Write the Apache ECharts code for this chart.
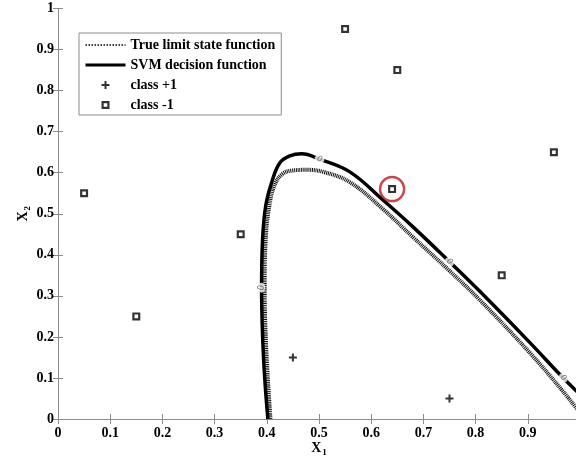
<!DOCTYPE html>
<html>
<head>
<meta charset="utf-8">
<script src="https://cdn.jsdelivr.net/npm/echarts@6/dist/echarts.min.js"></script>
<style>
  html, body { margin: 0; padding: 0; background: #fff; }
  #chart { width: 576px; height: 461px; }
</style>
</head>
<body>
<div id="chart"></div>
<script>
// points, [x1, x2]
const svmCurve = [
  [0.402, 0], [0.396, 0.10], [0.392, 0.20], [0.390, 0.32], [0.392, 0.44],
  [0.398, 0.52], [0.409, 0.575], [0.425, 0.624], [0.444, 0.641], [0.467, 0.646],
  [0.501, 0.633], [0.559, 0.602], [0.622, 0.534], [0.680, 0.468], [0.750, 0.383],
  [0.808, 0.311], [0.904, 0.186], [0.967, 0.101], [1.0, 0.060]
];
const trueCurve = [
  [0.407, 0], [0.402, 0.10], [0.398, 0.20], [0.396, 0.32], [0.398, 0.44],
  [0.405, 0.52], [0.415, 0.570], [0.430, 0.597], [0.447, 0.605], [0.477, 0.607],
  [0.511, 0.601], [0.559, 0.577], [0.622, 0.512], [0.680, 0.443], [0.750, 0.361],
  [0.808, 0.290], [0.904, 0.161], [0.967, 0.068], [1.0, 0.015]
];
const classPlus = [[0.45, 0.15], [0.75, 0.05]];
const classMinus = [
  [0.05, 0.55], [0.15, 0.25], [0.35, 0.45], [0.55, 0.95],
  [0.65, 0.85], [0.64, 0.56], [0.85, 0.35], [0.95, 0.65]
];
const circledPoint = [[0.64, 0.56]];
const contourLabelPts = [[0.390, 0.32], [0.501, 0.633], [0.750, 0.383], [0.968, 0.100]];
const contourLabelAngles = [90, -21, -43, -46];

const FONT = "'Liberation Serif', 'Times New Roman', serif";
const axisGray = '#8c8c8c';
const plusPath = 'path://M3,0h2v3h3v2h-3v3h-2v-3h-3v-2h3z';
const squarePath = 'path://M0,0h8v8h-8z M2.2,2.2v3.6h3.6v-3.6z';

const chart = echarts.init(document.getElementById('chart'));

const baseAxis = {
  type: 'value', min: 0, max: 1, interval: 0.1,
  splitLine: { show: false },
  axisLine: { show: true, lineStyle: { color: axisGray, width: 1 } },
  axisTick: { show: true, inside: true, length: 5, lineStyle: { color: axisGray } }
};
const tickFont = { fontFamily: FONT, fontWeight: 'bold', fontSize: 14, color: '#000' };
const nameRich = {
  m: { fontFamily: FONT, fontWeight: 'bold', fontSize: 14, color: '#000' },
  s: { fontFamily: FONT, fontWeight: 'bold', fontSize: 9, color: '#000', padding: [9, 0, 0, 1] }
};

const option = {
  animation: false,
  backgroundColor: '#fff',
  grid: { left: 58, top: 8.5, width: 522, height: 410.5, outerBoundsMode: 'none', containLabel: false },
  xAxis: [
    Object.assign({}, baseAxis, {
      position: 'bottom',
      axisLabel: Object.assign({ margin: 7 }, tickFont),
      name: '{m|X}{s|1}', nameLocation: 'middle', nameGap: 20, nameMoveOverlap: false,
      nameTextStyle: { rich: nameRich }
    }),
    Object.assign({}, baseAxis, { position: 'top', axisLabel: { show: false } })
  ],
  yAxis: [
    Object.assign({}, baseAxis, {
      position: 'left',
      axisLabel: Object.assign({ margin: 4 }, tickFont),
      name: '{m|X}{s|2}', nameLocation: 'middle', nameGap: 26, nameRotate: 90, nameMoveOverlap: false,
      nameTextStyle: { rich: nameRich }
    }),
    Object.assign({}, baseAxis, { position: 'right', axisLabel: { show: false } })
  ],
  legend: {
    orient: 'vertical', left: 79, top: 33,
    padding: [5, 6, 3, 5], itemGap: 6, itemWidth: 40, itemHeight: 8,
    borderColor: '#8c8c8c', borderWidth: 1, backgroundColor: '#fff',
    textStyle: { fontFamily: FONT, fontWeight: 'bold', fontSize: 14, color: '#000' },
    data: [
      { name: 'True limit state function', itemStyle: { opacity: 0 }, lineStyle: { width: 1.5, type: [1.5, 1.5], color: '#000' } },
      { name: 'SVM decision function', itemStyle: { opacity: 0 }, lineStyle: { width: 3, color: '#000' } },
      'class +1',
      'class -1'
    ]
  },
  series: [
    {
      name: 'True limit state function', type: 'line', data: trueCurve,
      showSymbol: false, symbol: 'none', smooth: 0.4, z: 2,
      itemStyle: { color: '#111' },
      lineStyle: { color: '#111', width: 4, type: [1, 0.8] }
    },
    {
      name: 'SVM decision function', type: 'line', data: svmCurve,
      showSymbol: false, symbol: 'none', smooth: 0.4, z: 3,
      itemStyle: { color: '#000' },
      lineStyle: { color: '#000', width: 3.5 }
    },
    {
      name: 'contour labels', type: 'scatter', z: 4,
      data: contourLabelPts.map((p, i) => ({
        value: p,
        symbolRotate: contourLabelAngles[i],
        label: { rotate: contourLabelAngles[i] }
      })),
      symbol: 'circle', symbolSize: [10, 7],
      itemStyle: { color: '#fff' },
      label: { show: true, position: 'inside', formatter: '0', fontSize: 8, fontStyle: 'italic', color: '#555', fontFamily: 'DejaVu Sans' }
    },
    {
      name: 'class +1', type: 'scatter', data: classPlus, z: 5,
      symbol: plusPath, symbolSize: 8,
      itemStyle: { color: '#000' }
    },
    {
      name: 'class -1', type: 'scatter', data: classMinus, z: 5,
      symbol: squarePath, symbolSize: 8,
      itemStyle: { color: '#000' }
    },
    {
      name: 'highlight', type: 'scatter', data: circledPoint, z: 6,
      symbol: 'circle', symbolSize: 24,
      itemStyle: { color: 'rgba(0,0,0,0)', borderColor: '#c0161c', borderWidth: 2.5 }
    }
  ]
};

chart.setOption(option);
</script>
</body>
</html>
